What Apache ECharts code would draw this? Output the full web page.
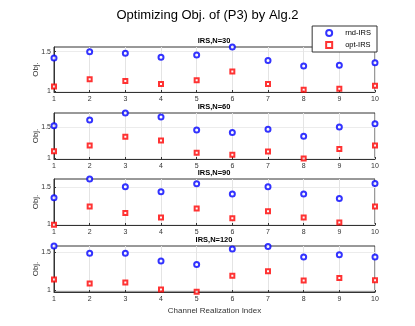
<!DOCTYPE html>
<html>
<head>
<meta charset="utf-8">
<script src="https://cdn.jsdelivr.net/npm/echarts@6/dist/echarts.min.js"></script>
<style>
html,body{margin:0;padding:0;background:#fff;}
#main{width:415px;height:326px;}
</style>
</head>
<body>
<div id="main"></div>
<script>
var xIdx = [1, 2, 3, 4, 5, 6, 7, 8, 9, 10];
var panelNames = ['IRS,N=30', 'IRS,N=60', 'IRS,N=90', 'IRS,N=120'];
// rnd-IRS
var rnd30 = [1.42, 1.50, 1.48, 1.43, 1.46, 1.56, 1.39, 1.32, 1.33, 1.36];
var rnd60 = [1.53, 1.62, 1.735, 1.67, 1.46, 1.42, 1.47, 1.36, 1.51, 1.56];
var rnd90 = [1.36, 1.615, 1.51, 1.44, 1.55, 1.41, 1.51, 1.41, 1.35, 1.555];
var rnd120 = [1.585, 1.49, 1.49, 1.385, 1.34, 1.545, 1.58, 1.44, 1.47, 1.44];
// opt-IRS
var opt30 = [1.06, 1.15, 1.13, 1.09, 1.14, 1.25, 1.09, 1.02, 1.03, 1.07];
var opt60 = [1.115, 1.21, 1.35, 1.29, 1.09, 1.06, 1.11, 1.0, 1.15, 1.21];
var opt90 = [0.99, 1.24, 1.15, 1.09, 1.21, 1.08, 1.175, 1.09, 1.02, 1.24];
var opt120 = [1.14, 1.085, 1.10, 1.005, 0.975, 1.19, 1.25, 1.125, 1.16, 1.13];
var yTicks = [1, 1.5];
var yMin = [0.99, 0.99, 0.986, 0.973];
var yMax = [1.56, 1.735, 1.615, 1.586];

var rndAll = [rnd30, rnd60, rnd90, rnd120];
var optAll = [opt30, opt60, opt90, opt120];

function pairs(arr){
    return arr.map(function (v, i) { return [xIdx[i], v]; });
}

var tops = [47, 113, 179, 246];
var hgts = [45, 46, 46, 46];
var fontName = 'Liberation Sans';
var axisCol = '#333';

var grids = [], xAxes = [], yAxes = [], series = [];
var titles = [{
    text: 'Optimizing Obj. of (P3) by Alg.2',
    left: 'center', top: 9, padding: 0,
    textStyle: {fontFamily: fontName, fontSize: 13, fontWeight: 'normal', color: '#000'}
}];

for (var i = 0; i < 4; i++) {
    grids.push({
        left: 54, right: 40, top: tops[i], height: hgts[i],
        show: true, borderColor: axisCol, borderWidth: 1, backgroundColor: '#fff'
    });
    titles.push({
        text: panelNames[i],
        left: 214, textAlign: 'center', top: tops[i] - 10, padding: 0,
        textStyle: {fontFamily: fontName, fontSize: 7.5, fontWeight: 'bold', color: '#000'}
    });
    xAxes.push({
        type: 'value', gridIndex: i, min: 1, max: 10, interval: 1,
        name: i == 3 ? 'Channel Realization Index' : '',
        nameLocation: 'middle', nameGap: 15, nameMoveOverlap: false,
        nameTextStyle: {fontFamily: fontName, fontSize: 8, color: axisCol},
        axisLine: {lineStyle: {color: axisCol}},
        axisTick: {inside: true, length: 2, lineStyle: {color: axisCol}},
        axisLabel: {fontFamily: fontName, fontSize: 7, color: axisCol, margin: 4},
        splitLine: {show: true, lineStyle: {color: '#e4e4e4'}}
    });
    yAxes.push({
        type: 'value', gridIndex: i, min: yMin[i], max: yMax[i],
        name: 'Obj.', nameLocation: 'middle', nameGap: 14, nameRotate: 90, nameMoveOverlap: false,
        nameTextStyle: {fontFamily: fontName, fontSize: 8, color: axisCol},
        axisLine: {show: true, lineStyle: {color: axisCol}},
        axisTick: {show: true, inside: true, length: 2, customValues: yTicks, lineStyle: {color: axisCol}},
        axisLabel: {fontFamily: fontName, fontSize: 7, color: axisCol, margin: 3, customValues: yTicks},
        splitLine: {show: true, lineStyle: {color: '#ececec'}}
    });
    series.push({
        name: 'rnd-IRS', type: 'scatter', xAxisIndex: i, yAxisIndex: i,
        symbol: 'emptyCircle', symbolSize: 5, clip: false,
        itemStyle: {color: '#0000ff', borderWidth: 1.4},
        data: pairs(rndAll[i])
    });
    series.push({
        name: 'opt-IRS', type: 'scatter', xAxisIndex: i, yAxisIndex: i,
        symbol: 'emptyRect', symbolSize: 4, clip: false,
        itemStyle: {color: '#ff0000', borderWidth: 1.2},
        data: pairs(optAll[i])
    });
}

var option = {
    animation: false,
    backgroundColor: '#fff',
    title: titles,
    legend: {
        right: 38, top: 26, orient: 'vertical',
        backgroundColor: '#fff', borderColor: axisCol, borderWidth: 1,
        padding: [3, 6, 3, 13], itemGap: 4, itemWidth: 6, itemHeight: 6,
        textStyle: {fontFamily: fontName, fontSize: 7.5, color: '#000', padding: [0, 0, 0, 8]},
        data: [
            {name: 'rnd-IRS', icon: 'emptyCircle'},
            {name: 'opt-IRS', icon: 'emptyRect'}
        ]
    },
    grid: grids,
    xAxis: xAxes,
    yAxis: yAxes,
    series: series
};

var myChart = echarts.init(document.getElementById('main'));
myChart.setOption(option);
</script>
</body>
</html>
